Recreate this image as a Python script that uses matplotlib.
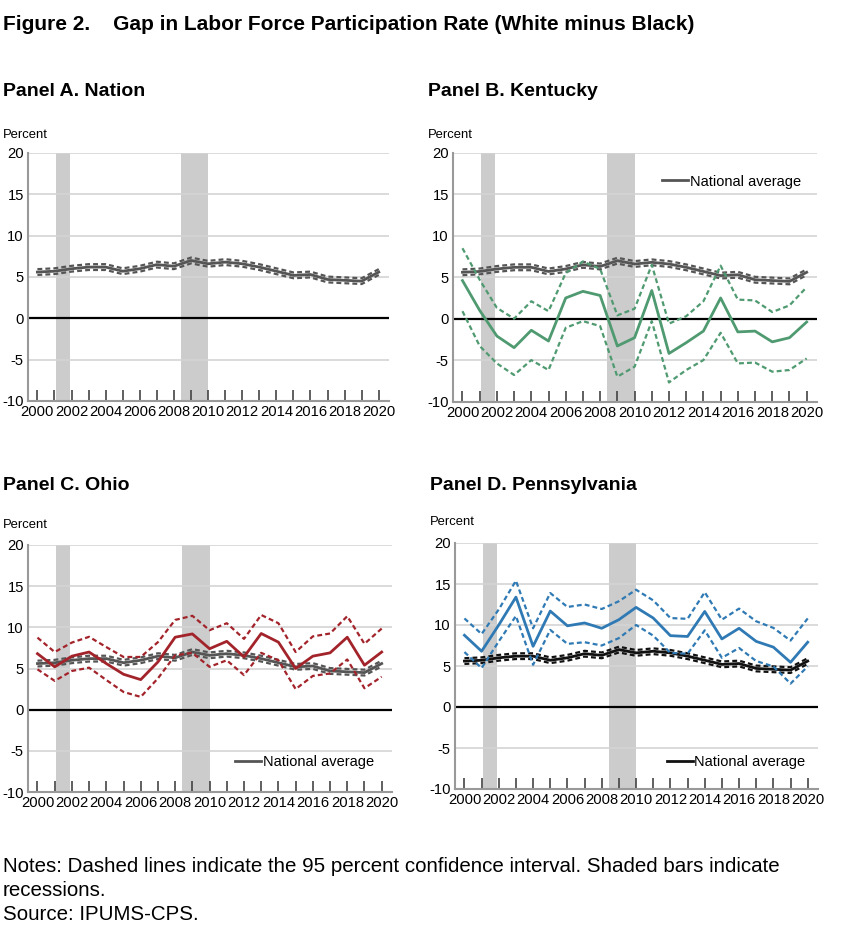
import numpy as np
import matplotlib.pyplot as plt

plt.rcParams['font.family'] = ['Liberation Sans', 'DejaVu Sans']
plt.rcParams['axes.unicode_minus'] = False

years = list(range(2000, 2021))

# national average (white minus black), with 95% CI
nat = [5.6, 5.7, 6.0, 6.2, 6.2, 5.7, 6.0, 6.5, 6.3, 7.0, 6.6,
       6.8, 6.6, 6.2, 5.7, 5.2, 5.3, 4.7, 4.6, 4.5, 5.6]
nat_hi = [5.95, 6.05, 6.35, 6.55, 6.55, 6.05, 6.35, 6.85, 6.65, 7.35, 6.95,
          7.15, 6.95, 6.55, 6.05, 5.55, 5.65, 5.05, 4.95, 4.85, 5.95]
nat_lo = [5.25, 5.35, 5.65, 5.85, 5.85, 5.35, 5.65, 6.15, 5.95, 6.65, 6.25,
          6.45, 6.25, 5.85, 5.35, 4.85, 4.95, 4.35, 4.25, 4.15, 5.25]

ky = [4.6, 1.0, -2.1, -3.5, -1.4, -2.7, 2.5, 3.3, 2.8, -3.3, -2.3,
      3.4, -4.2, -2.9, -1.5, 2.5, -1.6, -1.5, -2.8, -2.3, -0.4]
ky_hi = [8.5, 4.7, 1.3, 0.0, 2.1, 0.9, 5.5, 6.9, 6.0, 0.4, 1.2,
         6.5, -0.6, 0.3, 2.1, 6.4, 2.3, 2.2, 0.8, 1.6, 3.8]
ky_lo = [0.9, -3.3, -5.4, -6.8, -5.0, -6.2, -1.1, -0.3, -0.9, -7.0, -5.8,
         -0.3, -7.7, -6.2, -5.0, -1.7, -5.4, -5.3, -6.4, -6.2, -4.8]

oh = [6.8, 5.2, 6.5, 7.0, 5.6, 4.3, 3.65, 5.8, 8.8, 9.2, 7.4,
      8.3, 6.4, 9.25, 8.2, 5.0, 6.5, 6.9, 8.8, 5.4, 7.0]
oh_hi = [8.75, 7.0, 8.15, 8.85, 7.6, 6.4, 6.4, 8.2, 10.9, 11.4, 9.65,
         10.5, 8.6, 11.5, 10.5, 7.0, 8.9, 9.25, 11.35, 8.0, 9.85]
oh_lo = [4.9, 3.5, 4.7, 5.1, 3.6, 2.15, 1.55, 3.8, 6.6, 6.9, 5.2,
         6.0, 4.2, 6.9, 6.0, 2.5, 4.1, 4.4, 6.1, 2.6, 4.0]

pa = [8.75, 6.8, 10.0, 13.4, 7.4, 11.7, 9.9, 10.25, 9.6, 10.65, 12.15,
      10.85, 8.7, 8.6, 11.65, 8.3, 9.6, 8.0, 7.3, 5.45, 7.9]
pa_hi = [10.8, 8.9, 11.9, 15.4, 9.6, 13.9, 12.2, 12.5, 11.95, 12.9, 14.3,
         13.0, 10.85, 10.75, 14.0, 10.65, 12.0, 10.45, 9.65, 8.1, 10.8]
pa_lo = [6.7, 4.75, 8.0, 11.1, 5.15, 9.4, 7.7, 7.9, 7.5, 8.4, 10.0,
         8.7, 6.6, 6.5, 9.35, 6.0, 7.2, 5.6, 4.95, 2.85, 4.95]

recessions = [(2001.1, 2001.9), (2008.4, 2010.0)]

fig = plt.figure(figsize=(8.5, 9.34), dpi=100)

fig.text(3/850, 1-25/934, 'Figure 2.    Gap in Labor Force Participation Rate (White minus Black)',
         fontsize=15, fontweight='bold', va='center', ha='left')

DASH = (0, (2.2, 1.4))


def draw_panel(rect, title, title_y, pct_y, state=None, color=None, ci=None,
               nat_color='#555555', leg=None):
    ax = fig.add_axes(rect)
    for a, b in recessions:
        ax.axvspan(a, b, color='#cccccc', lw=0, zorder=0)
    for v in [5, 10, 15, 20, -5]:
        ax.axhline(v, color='#d4d4d4', lw=1.2, zorder=1)
    ax.axhline(0, color='black', lw=1.6, zorder=2)

    ax.plot(years, nat_hi, color=nat_color, lw=1.6, ls=DASH, zorder=3)
    ax.plot(years, nat_lo, color=nat_color, lw=1.6, ls=DASH, zorder=3)
    ln, = ax.plot(years, nat, color=nat_color, lw=2, zorder=3)
    if state is not None:
        ax.plot(years, ci[0], color=color, lw=1.6, ls=DASH, zorder=4)
        ax.plot(years, ci[1], color=color, lw=1.6, ls=DASH, zorder=4)
        ax.plot(years, state, color=color, lw=2, zorder=4)
    if leg is not None:
        ax.legend([ln], ['National average'], loc='center', bbox_to_anchor=leg,
                  frameon=False, fontsize=10.5, handlelength=1.8, handletextpad=0.1)

    ax.set_xlim(1999.45, 2020.6)
    ax.set_ylim(-10, 20)
    ax.set_yticks([-10, -5, 0, 5, 10, 15, 20])
    ax.set_xticks(years)
    ax.set_xticklabels([str(y) if y % 2 == 0 else '' for y in years])
    ax.tick_params(axis='x', direction='in', length=8, width=1.2, color='#444444',
                   labelsize=10.6, pad=3)
    ax.tick_params(axis='y', length=0, labelsize=10.6, pad=3)
    for s in ['top', 'right']:
        ax.spines[s].set_visible(False)
    ax.spines['left'].set_color('#999999')
    ax.spines['left'].set_linewidth(1.5)
    ax.spines['bottom'].set_color('#999999')
    ax.spines['bottom'].set_linewidth(1.5)

    x0 = rect[0] - 25/850
    fig.text(x0, 1 - title_y/934, title, fontsize=14, fontweight='bold',
             va='center', ha='left')
    fig.text(x0, 1 - pct_y/934, 'Percent', fontsize=9.4, va='center', ha='left')
    return ax


draw_panel([28/850, 1-401/934, 361/850, 248/934], 'Panel A. Nation', 91, 135)
draw_panel([453/850, 1-401.5/934, 364/850, 248.5/934], 'Panel B. Kentucky', 91, 135,
           ky, '#4f9a70', (ky_hi, ky_lo), leg=(0.765, 0.885))
draw_panel([28/850, 1-792/934, 364/850, 247/934], 'Panel C. Ohio', 485, 525,
           oh, '#a3232b', (oh_hi, oh_lo), leg=(0.76, 0.121))
draw_panel([455/850, 1-789/934, 363/850, 246/934], 'Panel D. Pennsylvania', 485, 522,
           pa, '#2f7ab4', (pa_hi, pa_lo), nat_color='#111111', leg=(0.774, 0.11))

fig.text(3/850, 1-866/934,
         'Notes: Dashed lines indicate the 95 percent confidence interval. Shaded bars indicate',
         fontsize=14.8, va='center', ha='left')
fig.text(3/850, 1-890/934, 'recessions.', fontsize=14.8, va='center', ha='left')
fig.text(3/850, 1-914/934, 'Source: IPUMS-CPS.', fontsize=14.8, va='center', ha='left')

fig.savefig('out.png', dpi=100)
